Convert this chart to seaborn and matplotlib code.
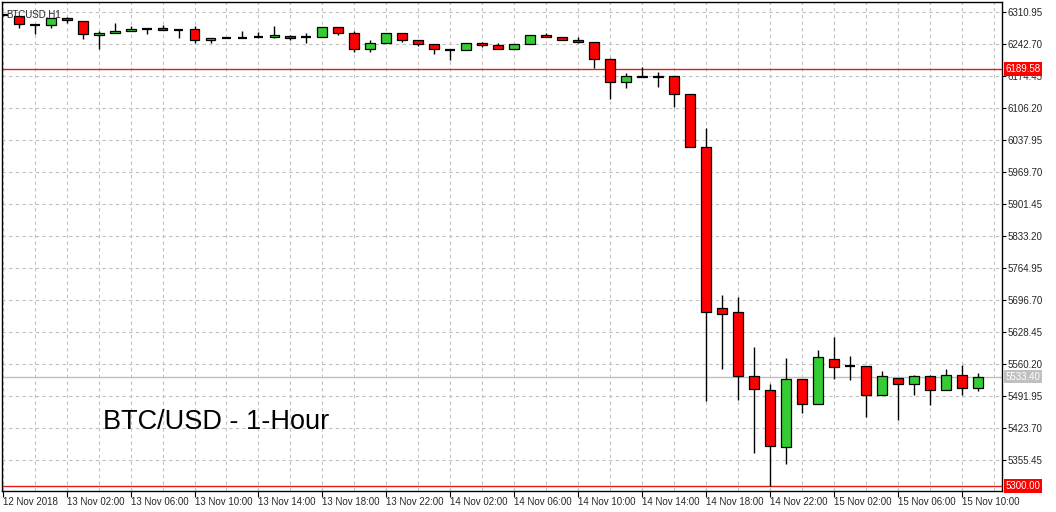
import numpy as np
import pandas as pd
import matplotlib
matplotlib.use('Agg')
import matplotlib.pyplot as plt
import seaborn as sns

# hourly BTC/USD candles, 12 Nov 22:00 .. 15 Nov 11:00
opens = [6304.6, 6302.4, 6283.2, 6283.2, 6298.2, 6291.8, 6261.9, 6266.2, 6270.4, 6274.7,
         6276.8, 6272.6, 6274.7, 6251.2, 6255.5, 6255.5, 6256.6, 6257.6, 6259.7, 6256.6,
         6257.6, 6279.0, 6266.2, 6232.0, 6244.8, 6266.2, 6251.2, 6242.7, 6229.9, 6229.9,
         6244.8, 6240.6, 6232.0, 6242.7, 6261.9, 6257.6, 6251.2, 6247.0, 6210.7, 6161.6,
         6175.5, 6172.3, 6175.5, 6136.1, 6023.0, 5679.6, 5671.1, 5534.6, 5504.7, 5383.2,
         5528.2, 5474.9, 5570.9, 5555.9, 5555.9, 5494.1, 5530.3, 5517.5, 5534.6, 5504.7,
         5536.7, 5509.0]
highs = [6306.7, 6302.4, 6283.2, 6298.2, 6300.3, 6291.8, 6270.4, 6287.5, 6281.1, 6274.7,
         6283.2, 6272.6, 6281.1, 6255.5, 6255.5, 6270.4, 6268.3, 6281.1, 6261.9, 6266.2,
         6279.0, 6279.0, 6271.5, 6251.2, 6266.2, 6266.2, 6251.2, 6242.7, 6229.9, 6244.8,
         6247.0, 6244.8, 6242.7, 6261.9, 6266.2, 6257.6, 6257.6, 6247.0, 6212.8, 6180.8,
         6193.6, 6183.0, 6175.5, 6136.1, 6063.5, 5707.4, 5703.1, 5596.4, 5517.5, 5573.0,
         5528.2, 5590.0, 5617.8, 5577.2, 5555.9, 5545.2, 5530.3, 5536.7, 5536.7, 5549.5,
         5558.0, 5541.0]
lows = [6302.4, 6276.8, 6264.0, 6276.8, 6287.5, 6253.4, 6232.0, 6266.2, 6270.4, 6264.0,
        6272.6, 6255.5, 6244.8, 6244.8, 6255.5, 6255.5, 6255.5, 6255.5, 6251.2, 6244.8,
        6257.6, 6261.9, 6225.6, 6225.6, 6244.8, 6247.0, 6238.4, 6221.4, 6208.6, 6229.9,
        6236.3, 6232.0, 6232.0, 6242.7, 6257.6, 6251.2, 6244.8, 6191.5, 6125.4, 6148.9,
        6172.3, 6151.0, 6108.3, 6023.0, 5481.3, 5549.5, 5483.4, 5370.4, 5300.0, 5347.0,
        5455.7, 5474.9, 5528.2, 5526.1, 5447.2, 5494.1, 5440.8, 5494.1, 5472.8, 5504.7,
        5494.1, 5502.6]
closes = [6304.6, 6285.4, 6283.2, 6298.2, 6293.9, 6264.0, 6266.2, 6270.4, 6274.7, 6274.7,
          6272.6, 6272.6, 6251.2, 6255.5, 6255.5, 6255.5, 6256.6, 6261.9, 6255.5, 6256.6,
          6279.0, 6266.2, 6232.0, 6244.8, 6266.2, 6251.2, 6242.7, 6232.0, 6229.9, 6244.8,
          6240.6, 6232.0, 6242.7, 6261.9, 6257.6, 6251.2, 6247.0, 6210.7, 6161.6, 6175.5,
          6172.3, 6175.5, 6136.1, 6023.0, 5671.1, 5666.8, 5534.6, 5506.9, 5385.3, 5528.2,
          5474.9, 5575.1, 5553.8, 5555.9, 5494.1, 5534.6, 5517.5, 5534.6, 5504.7, 5536.7,
          5509.0, 5533.4]

time_labels = ['12 Nov 2018', '13 Nov 02:00', '13 Nov 06:00', '13 Nov 10:00',
               '13 Nov 14:00', '13 Nov 18:00', '13 Nov 22:00', '14 Nov 02:00',
               '14 Nov 06:00', '14 Nov 10:00', '14 Nov 14:00', '14 Nov 18:00',
               '14 Nov 22:00', '15 Nov 02:00', '15 Nov 06:00', '15 Nov 10:00']
price_ticks = [5355.45, 5423.70, 5491.95, 5560.20, 5628.45, 5696.70, 5764.95, 5833.20,
               5901.45, 5969.70, 6037.95, 6106.20, 6174.45, 6242.70, 6310.95]
level_high = 6189.58
level_low = 5300.00
last_price = 5533.40

df = pd.DataFrame({'open': opens, 'high': highs, 'low': lows, 'close': closes})
df['bar'] = np.arange(len(df))

sns.set_style('white')
plt.rcParams['font.family'] = ['Liberation Sans', 'DejaVu Sans']

W, H = 1056, 512
fig = plt.figure(figsize=(W / 100, H / 100), dpi=100)
ax = fig.add_axes([2 / W, 1 - 491 / H, 1000 / W, 489 / H])

up_col = '#33CC33'
dn_col = '#FF0000'
body_w = 0.62

# wicks
ax.vlines(df['bar'], df['low'], df['high'], color='black', lw=1, zorder=3)

# bodies
for _, r in df.iterrows():
    if abs(r['close'] - r['open']) < 0.5:
        ax.hlines(r['open'], r['bar'] - body_w / 2, r['bar'] + body_w / 2,
                  color='black', lw=1.6, zorder=4)
        continue
    col = up_col if r['close'] > r['open'] else dn_col
    lo = min(r['open'], r['close'])
    ax.bar(r['bar'], abs(r['close'] - r['open']), bottom=lo, width=body_w,
           color=col, edgecolor='black', linewidth=0.9, zorder=4)

# level lines
ax.axhline(level_high, color='#E41A1A', lw=1, zorder=2)
ax.axhline(level_low, color='#E41A1A', lw=1, zorder=2)
ax.axhline(last_price, color='#C0C0C0', lw=1, zorder=2)

ax.set_xlim(-0.04, 62.5)
ax.set_ylim(5289.3, 6332.3)

# axes ticks
ax.set_xticks(np.arange(0, 61, 4))
ax.set_xticklabels(time_labels)
for lbl in ax.get_xticklabels():
    lbl.set_horizontalalignment('left')
ax.set_xticks(np.arange(0, 63, 2), minor=True)
ax.yaxis.tick_right()
ax.set_yticks(price_ticks)
ax.set_yticklabels([f'{p:.2f}' for p in price_ticks])
ax.tick_params(axis='x', which='major', length=4, width=0.8, pad=0.5,
               labelsize=7, color='black', direction='out', bottom=True)
ax.tick_params(axis='x', which='minor', length=0)
ax.tick_params(axis='y', length=3, width=0.8, pad=1, labelsize=7,
               color='black', direction='out', right=True, left=False)

ax.grid(True, which='both', axis='x', color='#C0C0C0', lw=0.8, ls=(0, (3, 3)))
ax.grid(True, which='major', axis='y', color='#C0C0C0', lw=0.8, ls=(0, (3, 3)))
ax.set_axisbelow(True)
for s in ax.spines.values():
    s.set_color('black')
    s.set_linewidth(1)

# price labels on the right axis
tr = ax.get_yaxis_transform()
for val, fc in [(level_high, '#FF0000'), (level_low, '#FF0000'), (last_price, '#C0C0C0')]:
    ax.text(1.0035, val, f'{val:.2f}', transform=tr, color='white', fontsize=7,
            va='center', ha='left', zorder=6, clip_on=False,
            bbox=dict(boxstyle='square,pad=0.18', fc=fc, ec='none'))

ax.text(0.004, 0.985, 'BTCUSD,H1', transform=ax.transAxes, fontsize=7,
        va='top', ha='left', zorder=6)
fig.text(103 / W, 1 - 422 / H, 'BTC/USD - 1-Hour', fontsize=19.5,
         va='center', ha='left', color='black')

fig.savefig('out.png', dpi=100)
